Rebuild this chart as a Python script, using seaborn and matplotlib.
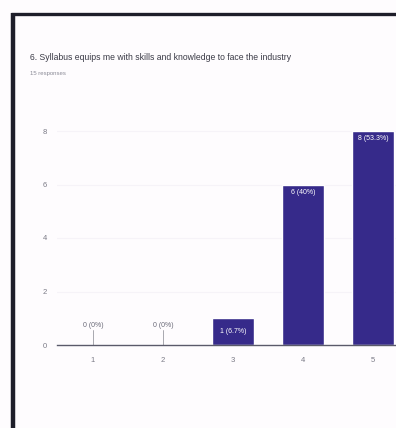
import matplotlib
matplotlib.use("Agg")
import matplotlib.pyplot as plt
from matplotlib.lines import Line2D
import seaborn as sns
import pandas as pd

categories = ["1", "2", "3", "4", "5"]
counts = [0, 0, 1, 6, 8]
labels = ["0 (0%)", "0 (0%)", "1 (6.7%)", "6 (40%)", "8 (53.3%)"]
yticks = [0, 2, 4, 6, 8]
title = "6. Syllabus equips me with skills and knowledge to face the industry"
subtitle = "15 responses"

sns.set_theme(style="white")
FONT = ["Liberation Sans Narrow", "Liberation Sans", "DejaVu Sans"]
plt.rcParams["font.family"] = FONT

W, H = 396, 428
fig = plt.figure(figsize=(W / 100, H / 100), dpi=100)
fig.patch.set_facecolor("#fefcfe")

left, right, top, bottom = 57, 396, 120, 345
ax = fig.add_axes([left / W, 1 - bottom / H, (right - left) / W, (bottom - top) / H])
ax.set_facecolor("none")

df = pd.DataFrame({"cat": categories, "n": counts})
sns.barplot(data=df, x="cat", y="n", color="#362a8a", saturation=1, width=0.61, ax=ax)

ax.set_xlim(-0.514, 4 + (right - 373) / 70)
ax.set_ylim(0, (bottom - top) / 26.75)
ax.set_yticks(yticks)
ax.set_yticklabels([str(t) for t in yticks])
ax.tick_params(axis="both", length=0, labelsize=5.5, colors="#7a7a86")
ax.tick_params(axis="x", pad=9)
ax.tick_params(axis="y", pad=7)
for s in ["top", "right", "left"]:
    ax.spines[s].set_visible(False)
ax.spines["bottom"].set_color("#5a5a6a")
ax.spines["bottom"].set_linewidth(1.0)
ax.set_xlabel("")
ax.set_ylabel("")
for t in yticks[1:]:
    ax.axhline(t, color="#f6f3f8", lw=0.8, zorder=0)

for i, (v, lab) in enumerate(zip(counts, labels)):
    if v == 0:
        ax.plot([i, i], [0, 0.55], color="#9a9aa2", lw=0.6)
        ax.annotate(lab, (i, 0.55), xytext=(0, 1), textcoords="offset points",
                    ha="center", va="bottom", fontsize=5, color="#6a6a78")
    elif v == 1:
        ax.text(i, v / 2, lab, ha="center", va="center", fontsize=5, color="white")
    else:
        ax.annotate(lab, (i, v), xytext=(0, -3), textcoords="offset points",
                    ha="center", va="top", fontsize=5, color="white")

fig.text(30 / W, 1 - 58 / H, title, fontsize=6.2, color="#3a3a46", va="center", ha="left")
fig.text(30 / W, 1 - 74 / H, subtitle, fontsize=4.3, color="#8a8a96", va="center", ha="left")

fig.add_artist(Line2D([11 / W, 1], [1 - 13.5 / H, 1 - 13.5 / H], color="#1e1e2a", lw=2.4,
                      solid_capstyle="butt", transform=fig.transFigure))
fig.add_artist(Line2D([13 / W, 13 / W], [1 - 12.5 / H, 0], color="#1e1e2a", lw=3.2,
                      solid_capstyle="butt", transform=fig.transFigure))

fig.savefig("out.png", dpi=100, facecolor=fig.get_facecolor())
